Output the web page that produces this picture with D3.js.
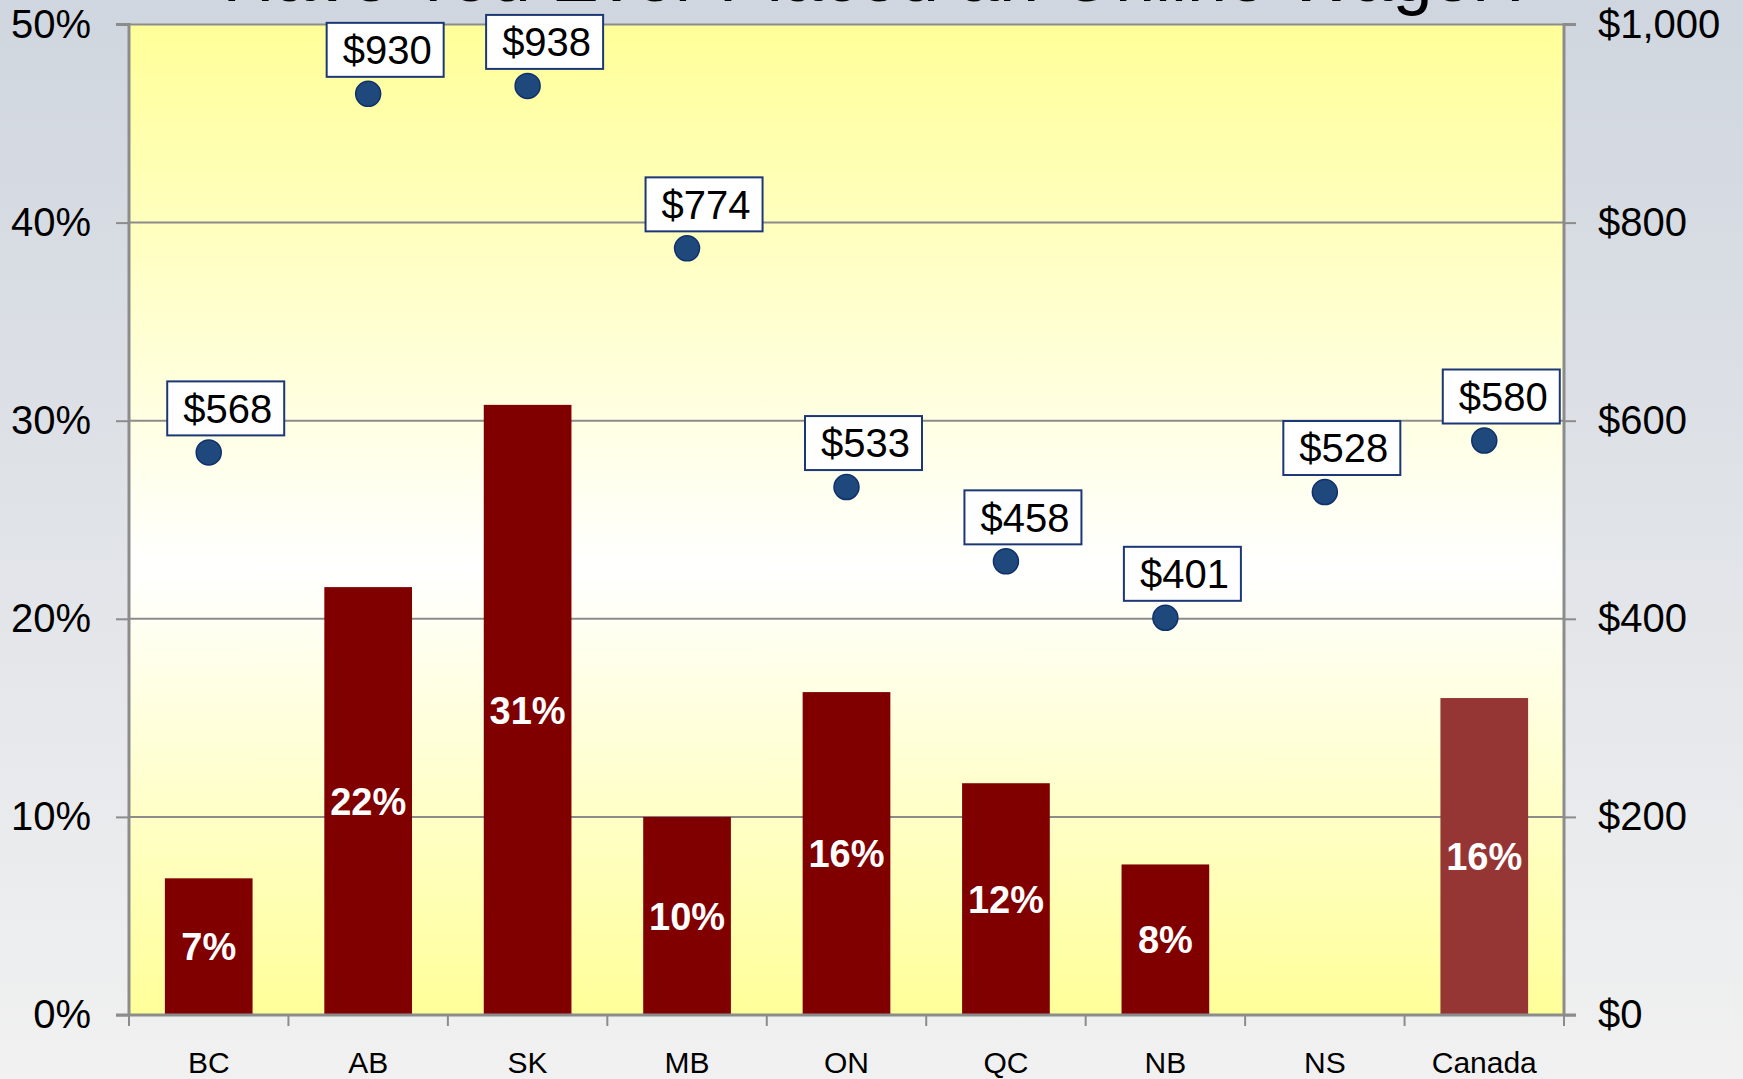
<!DOCTYPE html>
<html>
<head>
<meta charset="utf-8">
<script src="https://cdn.jsdelivr.net/npm/d3@7"></script>
<style>
  html, body { margin: 0; padding: 0; overflow: hidden; }
  svg { display: block; font-family: "Liberation Sans", Arial, sans-serif; }
</style>
</head>
<body>
<svg id="chart"></svg>
<script>
// Data
const categories = ['BC', 'AB', 'SK', 'MB', 'ON', 'QC', 'NB', 'NS', 'Canada'];
const sharePct = [6.9, 21.6, 30.8, 10.0, 16.3, 11.7, 7.6, null, 16.0];
const shareLabels = ['7%', '22%', '31%', '10%', '16%', '12%', '8%', '', '16%'];
const spendAmounts = [568, 930, 938, 774, 533, 458, 401, 528, 580];
const leftTicks = [0, 10, 20, 30, 40, 50];
const rightTicks = [0, 200, 400, 600, 800, 1000];
const title = 'Have You Ever Placed an Online Wager?';

const width = 1743;
const height = 1079;
const margin = { top: 24.5, right: 179, bottom: 64, left: 129 };

const svg = d3.select('#chart').attr('width', width).attr('height', height);
const defs = svg.append('defs');

// Page background gradient
const bg = defs.append('linearGradient').attr('id', 'bg')
  .attr('x1', 0).attr('y1', 0).attr('x2', 0).attr('y2', 1);
bg.append('stop').attr('offset', 0).attr('stop-color', '#d0d6df');
bg.append('stop').attr('offset', 1).attr('stop-color', '#f1f1f1');

// Plot area gradient: yellow - white - yellow
const pg = defs.append('linearGradient').attr('id', 'plotbg')
  .attr('x1', 0).attr('y1', 0).attr('x2', 0).attr('y2', 1);
pg.append('stop').attr('offset', 0).attr('stop-color', '#ffff99');
pg.append('stop').attr('offset', 0.55).attr('stop-color', '#ffffff');
pg.append('stop').attr('offset', 1).attr('stop-color', '#ffff99');

svg.append('rect').attr('width', width).attr('height', height).attr('fill', 'url(#bg)');

const x = d3.scaleBand()
  .domain(categories)
  .range([margin.left, width - margin.right])
  .paddingInner(0.45)
  .paddingOuter(0.225);

const yLeft = d3.scaleLinear().domain([0, 50]).range([height - margin.bottom, margin.top]);
const yRight = d3.scaleLinear().domain([0, 1000]).range([height - margin.bottom, margin.top]);

const plotW = width - margin.left - margin.right;
const plotH = height - margin.top - margin.bottom;

svg.append('rect')
  .attr('x', margin.left).attr('y', margin.top)
  .attr('width', plotW).attr('height', plotH)
  .attr('fill', 'url(#plotbg)');

// Title (cut off at the top edge)
svg.append('text')
  .attr('x', width / 2 + 8)
  .attr('y', 1)
  .attr('text-anchor', 'middle')
  .attr('font-size', 72)
  .attr('fill', '#000')
  .text(title);

// Gridlines
svg.append('g')
  .selectAll('line')
  .data(leftTicks.filter(d => d > 0))
  .join('line')
  .attr('x1', margin.left).attr('x2', width - margin.right)
  .attr('y1', d => yLeft(d)).attr('y2', d => yLeft(d))
  .attr('stroke', '#8c8c8c').attr('stroke-width', 2);

// Bars
const bars = categories.map((c, i) => ({ c, v: sharePct[i], label: shareLabels[i] }))
  .filter(d => d.v != null);

svg.append('g')
  .selectAll('rect')
  .data(bars)
  .join('rect')
  .attr('x', d => x(d.c))
  .attr('width', x.bandwidth())
  .attr('y', d => yLeft(d.v))
  .attr('height', d => yLeft(0) - yLeft(d.v))
  .attr('fill', d => d.c === 'Canada' ? '#963634' : '#800000');

svg.append('g')
  .selectAll('text')
  .data(bars)
  .join('text')
  .attr('x', d => x(d.c) + x.bandwidth() / 2)
  .attr('y', d => (yLeft(d.v) + yLeft(0)) / 2)
  .attr('dy', '0.36em')
  .attr('text-anchor', 'middle')
  .attr('font-size', 38)
  .attr('font-weight', 'bold')
  .attr('fill', '#fff')
  .text(d => d.label);

// Left axis
const leftAxis = svg.append('g')
  .attr('transform', `translate(${margin.left},0)`)
  .call(d3.axisLeft(yLeft).tickValues(leftTicks).tickFormat(d => d + '%').tickSize(13).tickPadding(25));

// Right axis
const rightAxis = svg.append('g')
  .attr('transform', `translate(${width - margin.right},0)`)
  .call(d3.axisRight(yRight).tickValues(rightTicks).tickFormat(d => '$' + d3.format(',')(d)).tickSize(12).tickPadding(22));

// Bottom axis with ticks on category boundaries
const step = x.step();
const boundaries = d3.range(categories.length + 1).map(i => margin.left + i * step);
const bottom = svg.append('g');
bottom.append('line')
  .attr('x1', margin.left - 13).attr('x2', width - margin.right + 12)
  .attr('y1', yLeft(0)).attr('y2', yLeft(0))
  .attr('stroke', '#8c8c8c').attr('stroke-width', 3);
bottom.selectAll('.btick')
  .data(boundaries)
  .join('line')
  .attr('class', 'btick')
  .attr('x1', d => d).attr('x2', d => d)
  .attr('y1', yLeft(0)).attr('y2', yLeft(0) + 11)
  .attr('stroke', '#8c8c8c').attr('stroke-width', 2);
bottom.selectAll('.cat')
  .data(categories)
  .join('text')
  .attr('class', 'cat')
  .attr('x', d => x(d) + x.bandwidth() / 2)
  .attr('y', 1073)
  .attr('text-anchor', 'middle')
  .attr('font-size', 30)
  .attr('fill', '#000')
  .text(d => d);

[leftAxis, rightAxis].forEach(ax => {
  ax.select('.domain').attr('stroke', '#8c8c8c').attr('stroke-width', 3);
  ax.selectAll('.tick line').attr('stroke', '#8c8c8c').attr('stroke-width', 2);
  ax.selectAll('.tick text').attr('font-size', 40).attr('fill', '#000')
    .attr('font-family', '"Liberation Sans", Arial, sans-serif');
});
leftAxis.select('.domain').attr('d', `M-13,${yLeft(50)}H0V${yLeft(0)}`);
rightAxis.select('.domain').attr('d', `M12,${yLeft(50)}H0V${yLeft(0)}`);

// Spend dots with boxed labels
const pts = categories.map((c, i) => ({ c, v: spendAmounts[i] }));
const boxW = 117, boxH = 54;

const dots = svg.append('g');
dots.selectAll('circle')
  .data(pts)
  .join('circle')
  .attr('cx', d => x(d.c) + x.bandwidth() / 2)
  .attr('cy', d => yRight(d.v))
  .attr('r', 12.5)
  .attr('fill', '#1f497d')
  .attr('stroke', '#10306a')
  .attr('stroke-width', 1.5);

const labels = svg.append('g')
  .selectAll('g')
  .data(pts)
  .join('g')
  .attr('transform', d => `translate(${x(d.c) + x.bandwidth() / 2 + 17},${yRight(d.v) - 17 - boxH / 2})`);

labels.append('rect')
  .attr('x', -boxW / 2).attr('y', -boxH / 2)
  .attr('width', boxW).attr('height', boxH)
  .attr('fill', '#fff')
  .attr('stroke', '#1c3775')
  .attr('stroke-width', 2);

labels.append('text')
  .attr('x', 2)
  .attr('dy', '0.36em')
  .attr('text-anchor', 'middle')
  .attr('font-size', 40)
  .attr('fill', '#000')
  .text(d => '$' + d.v);
</script>
</body>
</html>
